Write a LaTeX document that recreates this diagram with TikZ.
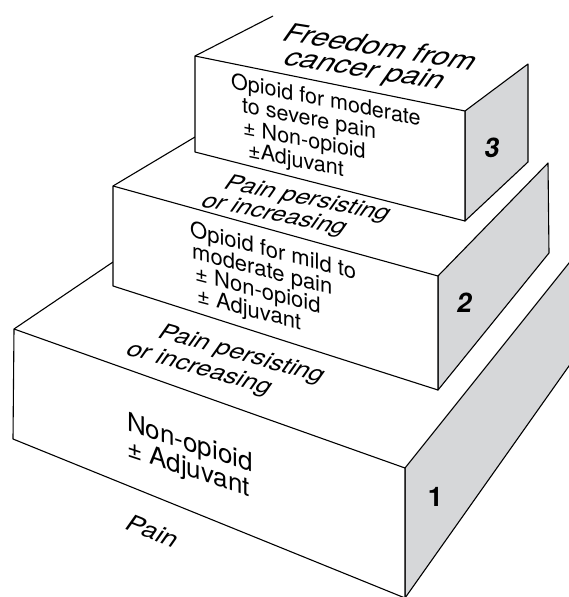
\documentclass[tikz,border=0pt]{standalone}
\usepackage{fontspec}
\setmainfont{TeX Gyre Heros}
\usepackage{xcolor}
\definecolor{SideGray}{RGB}{214,215,217}

\begin{document}
\begin{tikzpicture}[
  x=1pt, y=-1pt,
  stepfront/.style={draw, line width=1.1pt, fill=white, line join=round},
  stepside/.style={draw, line width=1.1pt, fill=SideGray, line join=round},
  steprim/.style={draw, line width=1.1pt},
  facetext/.style={anchor=base west, align=left, inner sep=0pt, yslant=-#1},
  floortext/.style={anchor=base west, inner sep=0pt, cm={1,-#1,0.55,0.78,(0,0)}},
  stepnum/.style={font=\fontsize{27}{27}\selectfont\bfseries}
]
  \useasboundingbox (0,0) rectangle (569,597);
  \clip (0,0) rectangle (569,597);

  % Step 1 (bottom block)
  \coordinate (a1) at (14,329);
  \coordinate (b1) at (405,468);
  \coordinate (c1) at (405,598);
  \coordinate (d1) at (13,439);
  \coordinate (e1) at (605,218);
  \coordinate (f1) at (605,315);
  \coordinate (g1) at (113,262);
  \draw[stepside] (b1) -- (e1) -- (f1) -- (c1) -- cycle;
  \draw[stepfront] (a1) -- (b1) -- (c1) -- (d1) -- cycle;
  \draw[steprim] (a1) -- (g1);

  % Step 2 (middle block)
  \coordinate (a2) at (113,186);
  \coordinate (b2) at (438,276);
  \coordinate (c2) at (438,390);
  \coordinate (d2) at (113,286);
  \coordinate (e2) at (548,163);
  \coordinate (f2) at (549,253);
  \coordinate (g2) at (195,137);
  \draw[stepside] (b2) -- (e2) -- (f2) -- (c2) -- cycle;
  \draw[stepfront] (a2) -- (b2) -- (c2) -- (d2) -- cycle;
  \draw[steprim] (a2) -- (g2);

  % Step 3 (top block)
  \coordinate (a3) at (195,56);
  \coordinate (b3) at (465,111);
  \coordinate (c3) at (465,221);
  \coordinate (d3) at (195,152);
  \coordinate (e3) at (528,64);
  \coordinate (f3) at (528,162);
  \coordinate (g3) at (273,16);
  \draw[stepside] (b3) -- (e3) -- (f3) -- (c3) -- cycle;
  \draw[stepfront] (a3) -- (b3) -- (c3) -- (d3) -- cycle;
  \draw[steprim] (a3) -- (g3);

  % drugs on the front faces (anchored on the last line)
  \node[facetext=0.33, font=\fontsize{26}{24}\selectfont] (drug1) at (127,456)
    {Non-opioid\\± Adjuvant};
  \node[facetext=0.26, font=\fontsize{22}{21.5}\selectfont] (drug2) at (190,301)
    {Opioid for mild to\\\hspace*{2pt}moderate pain\\\hspace*{5pt}± Non-opioid\\\hspace*{7pt}± Adjuvant};
  \node[facetext=0.2, font=\fontsize{21.5}{22}\selectfont] (drug3) at (231,154)
    {Opioid for moderate\\\hspace*{11pt}to severe pain\\\hspace*{12pt}± Non-opioid\\\hspace*{17pt}±Adjuvant};

  % pain levels lying on the treads
  \node[floortext=0.4, font=\fontsize{25}{25}\selectfont] (pain0) at (123,528) {Pain};
  \node[floortext=0.28, font=\fontsize{25}{25}\selectfont] (pain1a) at (156,337) {Pain persisting};
  \node[floortext=0.28, font=\fontsize{25}{25}\selectfont] (pain1b) at (124,354) {or increasing};
  \node[floortext=0.2, font=\fontsize{25}{25}\selectfont] (pain2a) at (222,188) {Pain persisting};
  \node[floortext=0.2, font=\fontsize{25}{25}\selectfont] (pain2b) at (199,206) {or increasing};
  \node[floortext=0.16, font=\fontsize{30.5}{30}\selectfont] (free1) at (280,40) {Freedom from};
  \node[floortext=0.16, font=\fontsize{30.5}{30}\selectfont] (free2) at (281,64) {cancer pain};

  % step numbers
  \node[stepnum] (n1) at (435.5,497) {1};
  \node[stepnum, xslant=0.15] (n2) at (465,303) {2};
  \node[stepnum, xslant=0.15] (n3) at (492.5,148) {3};
\end{tikzpicture}
\end{document}
